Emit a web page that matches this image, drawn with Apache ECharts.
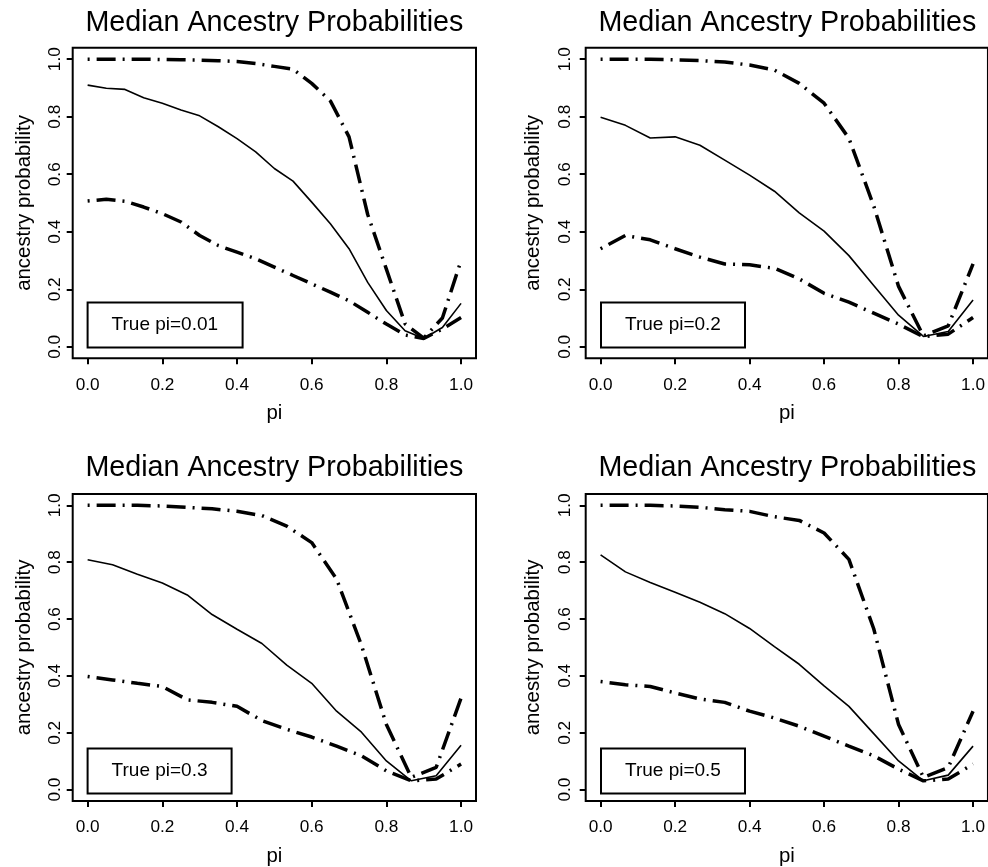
<!DOCTYPE html>
<html>
<head>
<meta charset="utf-8">
<script src="https://cdn.jsdelivr.net/npm/echarts@6/dist/echarts.min.js"></script>
<style>
  html, body { margin: 0; padding: 0; background: #fff; }
  #chart { width: 988px; height: 867px; }
</style>
</head>
<body>
<div id="chart"></div>
<script>
// pi grids
const piGrid20 = [0, 0.05, 0.1, 0.15, 0.2, 0.25, 0.3, 0.35, 0.4, 0.45, 0.5, 0.55, 0.6, 0.65, 0.7, 0.75, 0.8, 0.85, 0.9, 0.95, 1];
const piGrid15 = [0, 0.0667, 0.1333, 0.2, 0.2667, 0.3333, 0.4, 0.4667, 0.5333, 0.6, 0.6667, 0.7333, 0.8, 0.8667, 0.9333, 1];

// True pi = 0.01
const median1 = [0.910, 0.899, 0.895, 0.866, 0.847, 0.823, 0.803, 0.765, 0.724, 0.678, 0.620, 0.576, 0.503, 0.428, 0.341, 0.224, 0.126, 0.056, 0.029, 0.067, 0.151];
const upper1 = [1.000, 1.000, 1.000, 1.000, 0.999, 0.998, 0.997, 0.995, 0.992, 0.985, 0.975, 0.965, 0.916, 0.855, 0.730, 0.460, 0.270, 0.080, 0.030, 0.100, 0.300];
const lower1 = [0.507, 0.513, 0.506, 0.486, 0.463, 0.434, 0.387, 0.352, 0.329, 0.306, 0.277, 0.248, 0.219, 0.190, 0.160, 0.120, 0.079, 0.041, 0.029, 0.062, 0.102];

// True pi = 0.2
const median2 = [0.798, 0.770, 0.726, 0.730, 0.701, 0.649, 0.597, 0.541, 0.466, 0.402, 0.317, 0.213, 0.110, 0.036, 0.053, 0.163];
const upper2 = [1.000, 1.000, 1.000, 0.998, 0.995, 0.990, 0.980, 0.962, 0.916, 0.847, 0.725, 0.490, 0.210, 0.038, 0.073, 0.288];
const lower2 = [0.341, 0.387, 0.372, 0.341, 0.312, 0.288, 0.285, 0.273, 0.236, 0.186, 0.155, 0.117, 0.079, 0.035, 0.044, 0.102];

// True pi = 0.3
const median3 = [0.809, 0.791, 0.758, 0.727, 0.685, 0.616, 0.564, 0.514, 0.438, 0.374, 0.276, 0.202, 0.101, 0.031, 0.049, 0.156];
const upper3 = [1.000, 1.000, 1.000, 0.998, 0.993, 0.988, 0.979, 0.964, 0.927, 0.869, 0.741, 0.508, 0.229, 0.043, 0.078, 0.322];
const lower3 = [0.398, 0.386, 0.374, 0.363, 0.316, 0.307, 0.293, 0.243, 0.212, 0.185, 0.153, 0.119, 0.066, 0.031, 0.037, 0.090];

// True pi = 0.5
const median4 = [0.826, 0.766, 0.729, 0.694, 0.659, 0.619, 0.567, 0.503, 0.441, 0.365, 0.293, 0.197, 0.101, 0.031, 0.051, 0.153];
const upper4 = [1.000, 1.000, 1.000, 0.998, 0.993, 0.985, 0.979, 0.960, 0.947, 0.903, 0.810, 0.566, 0.229, 0.043, 0.078, 0.276];
const lower4 = [0.380, 0.369, 0.363, 0.340, 0.319, 0.307, 0.276, 0.252, 0.223, 0.188, 0.153, 0.119, 0.072, 0.031, 0.037, 0.090];

const tickValues = [0, 0.2, 0.4, 0.6, 0.8, 1];
const panelLabels = ["True pi=0.01", "True pi=0.2", "True pi=0.3", "True pi=0.5"];
const mainTitle = "Median Ancestry Probabilities";

const FONT = '"Liberation Sans", Arial, Helvetica, sans-serif';

const panels = [
    { x: piGrid20, median: median1, lower: lower1, upper: upper1 },
    { x: piGrid15, median: median2, lower: lower2, upper: upper2 },
    { x: piGrid15, median: median3, lower: lower3, upper: upper3 },
    { x: piGrid15, median: median4, lower: lower4, upper: upper4 },
];

// plot box placement for each panel
const boxes = [
    { left: 72.7, top: 47.7, height: 310.6, yMargin: 9, yGap: 38, titleTop: 9, keyLeft: 87.3, keyTop: 302.7 },
    { left: 585.7, top: 47.7, height: 310.6, yMargin: 12, yGap: 42, titleTop: 9, keyLeft: 600.7, keyTop: 302.7 },
    { left: 72.7, top: 494, height: 309.7, yMargin: 9, yGap: 38, titleTop: 454, keyLeft: 87.3, keyTop: 748.7 },
    { left: 585.7, top: 494, height: 309.7, yMargin: 12, yGap: 42, titleTop: 454, keyLeft: 600.7, keyTop: 748.7 },
];
const boxWidth = 403.3;

const dotDash = {
    color: "#000",
    width: 3.5,
    type: [2, 7, 19, 7],
    cap: "butt",
};

let grid = [], xAxis = [], yAxis = [], series = [], title = [];

panels.forEach((p, i) => {
    const b = boxes[i];
    grid.push({
        left: b.left,
        top: b.top,
        width: boxWidth,
        height: b.height,
        show: true,
        borderColor: "#000",
        borderWidth: 2,
        backgroundColor: "transparent",
    });
    xAxis.push({
        type: "value",
        gridIndex: i,
        min: -0.04,
        max: 1.04,
        name: "pi",
        nameLocation: "middle",
        nameGap: 45,
        nameTextStyle: { fontSize: 20.4, color: "#000", fontFamily: FONT },
        axisLine: { show: false, onZero: false },
        splitLine: { show: false },
        axisTick: {
            show: true,
            length: 6,
            customValues: tickValues,
            lineStyle: { color: "#000", width: 2 },
        },
        axisLabel: {
            customValues: tickValues,
            formatter: (v) => v.toFixed(1),
            margin: 18,
            fontSize: 17.2,
            color: "#000",
            fontFamily: FONT,
        },
    });
    yAxis.push({
        type: "value",
        gridIndex: i,
        min: -0.04,
        max: 1.04,
        name: "ancestry probability",
        nameLocation: "middle",
        nameGap: b.yGap,
        nameTextStyle: { fontSize: 20.4, color: "#000", fontFamily: FONT },
        axisLine: { show: false, onZero: false },
        splitLine: { show: false },
        axisTick: {
            show: true,
            length: 6,
            customValues: tickValues,
            lineStyle: { color: "#000", width: 2 },
        },
        axisLabel: {
            customValues: tickValues,
            formatter: (v) => v.toFixed(1),
            rotate: 90,
            margin: b.yMargin,
            fontSize: 17.2,
            color: "#000",
            fontFamily: FONT,
        },
    });

    const pairs = (ys) => p.x.map((x, j) => [x, ys[j]]);
    series.push(
        {
            type: "line",
            xAxisIndex: i,
            yAxisIndex: i,
            data: pairs(p.median),
            symbol: "none",
            lineStyle: { color: "#000", width: 1.6 },
        },
        {
            type: "line",
            xAxisIndex: i,
            yAxisIndex: i,
            data: pairs(p.lower),
            symbol: "none",
            lineStyle: dotDash,
        },
        {
            type: "line",
            xAxisIndex: i,
            yAxisIndex: i,
            data: pairs(p.upper),
            symbol: "none",
            lineStyle: dotDash,
        }
    );

    // main title, centred over the plot box
    title.push({
        text: mainTitle,
        left: b.left + boxWidth / 2,
        top: b.titleTop,
        textAlign: "center",
        textVerticalAlign: "top",
        padding: 0,
        textStyle: { fontSize: 28.7, fontWeight: "normal", color: "#000", fontFamily: FONT },
    });
    // boxed key in the lower left corner
    title.push({
        text: panelLabels[i],
        left: b.keyLeft,
        top: b.keyTop,
        textAlign: "left",
        textVerticalAlign: "top",
        padding: [12.8, 24.3],
        borderColor: "#000",
        borderWidth: 2,
        textStyle: { fontSize: 19, lineHeight: 19, fontWeight: "normal", color: "#000", fontFamily: FONT },
    });
});

let myChart = echarts.init(document.getElementById("chart"));
myChart.setOption({
    animation: false,
    backgroundColor: "#fff",
    title: title,
    grid: grid,
    xAxis: xAxis,
    yAxis: yAxis,
    series: series,
});
</script>
</body>
</html>
